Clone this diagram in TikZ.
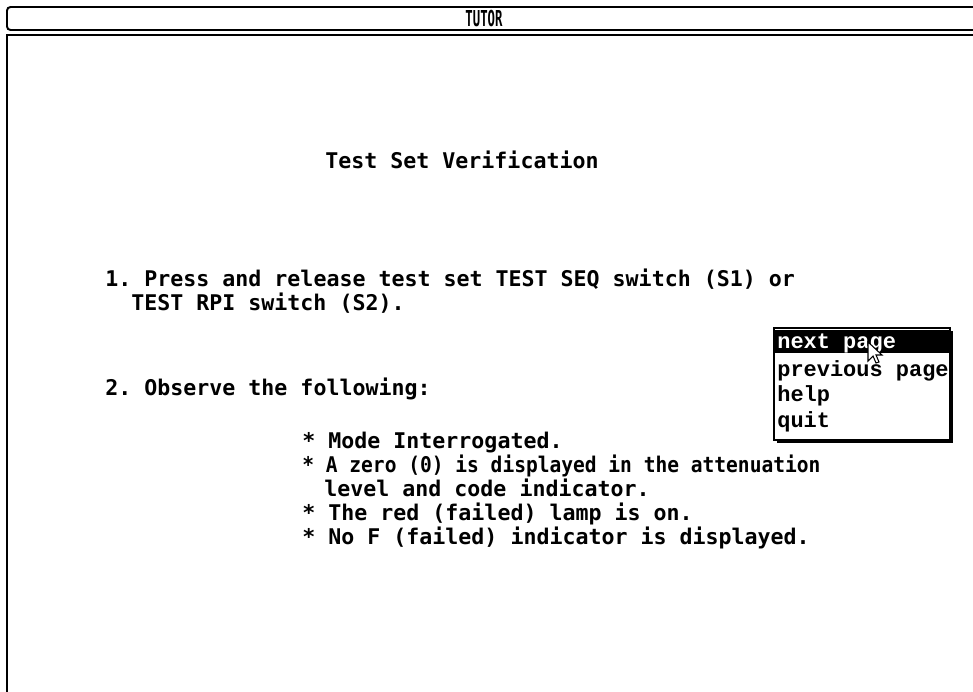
\documentclass[tikz,border=0pt]{standalone}
\usepackage{fontspec}
\setmonofont{DejaVu Sans Mono}
\newfontfamily\menufont{Liberation Mono}
\tikzset{
screentext/.style={anchor=base west, inner sep=0pt, font=\ttfamily\bfseries\fontsize{12.3}{14}\selectfont},
menuitem/.style={anchor=base west, inner sep=0pt, font=\menufont\bfseries\fontsize{12.5}{14}\selectfont},
frameline/.style={line width=1.1pt},
cursor/.pic={
  \draw[fill=white, line width=0.6pt] (0,0) -- (0,19) -- (5,14) -- (8,21) -- (11,20) -- (8,13) -- (14,13) -- cycle;
  }
}
\begin{document}
\begin{tikzpicture}[x=0.02cm, y=-0.02cm]
\useasboundingbox (0,0) rectangle (973,692);
% title bar
\draw[frameline, rounded corners=2pt] (973,7) -- (7,7) -- (7,30) -- (973,30);
\draw[frameline] (973,35) -- (7,35) -- (7,692);
\node[inner sep=0pt, font=\ttfamily\bfseries\fontsize{12.5}{13}\selectfont] (title) at (484,18.5) {\scalebox{0.56}[1]{TUTOR}};

% page text
\node[screentext] (head) at (325,169) {Test Set Verification};
\node[screentext] (stepa) at (105,287) {1. Press and release test set TEST SEQ switch (S1) or};
\node[screentext] (stepb) at (131,311) {TEST RPI switch (S2).};
\node[screentext] (obs) at (105,395) {2. Observe the following:};
\node[screentext] (ita) at (302,448) {* Mode Interrogated.};
\node[screentext] (itb) at (302,472) {\scalebox{0.905}[1]{* A zero (0) is displayed in the attenuation}};
\node[screentext] (itc) at (324,496) {level and code indicator.};
\node[screentext] (itd) at (302,520) {* The red (failed) lamp is on.};
\node[screentext] (ite) at (302,544) {* No F (failed) indicator is displayed.};

% popup menu
\fill (777,331) rectangle (953,443);
\draw[fill=white, line width=0.8pt] (774,328) rectangle (950,440);
\fill (775,330) rectangle (949,353);
\node[menuitem, text=white] (next) at (777,348) {next page};
\node[menuitem] (prev) at (777,377) {previous page};
\node[menuitem] (help) at (777,401) {help};
\node[menuitem] (quit) at (777,427) {quit};
\pic at (868,342) {cursor};
\end{tikzpicture}
\end{document}
